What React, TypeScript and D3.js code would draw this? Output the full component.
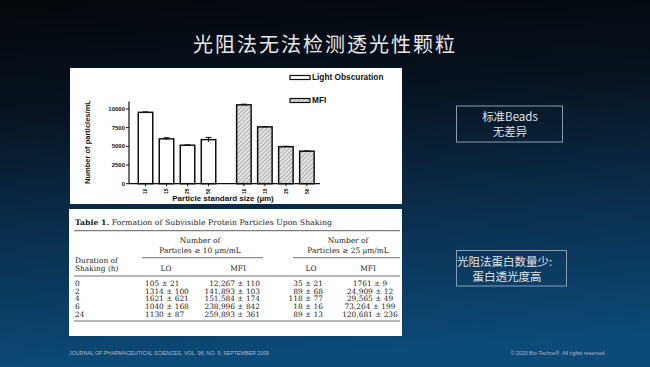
import React from "react";
import * as d3 from "d3";

const sizes = ["10", "15", "25", "50"];
const methods = ["Light Obscuration", "MFI"];
const loCounts = [9550, 6000, 5150, 5900];
const loErr = [60, 150, 50, 300];
const mfiCounts = [10550, 7600, 4950, 4350];
const mfiErr = [90, 50, 60, 40];
const yTicks = [0, 2500, 5000, 7500, 10000];

const durations = ["0", "2", "4", "6", "24"];
const lo10 = ["105 ± 21", "1314 ± 100", "1621 ± 621", "1040 ± 168", "1130 ± 87"];
const mfi10 = ["12,267 ± 110", "141,893 ± 103", "151,584 ± 174", "238,996 ± 842", "259,893 ± 361"];
const lo25 = ["35 ± 21", "89 ± 68", "118 ± 77", "18 ± 16", "89 ± 13"];
const mfi25 = ["1761 ± 9", "24,909 ± 12", "29,565 ± 49", "73,264 ± 199", "120,681 ± 236"];

const CJK = "'Noto Sans CJK SC', 'Noto Sans', sans-serif";
const SANS = "'Liberation Sans', Arial, sans-serif";
const SERIF = "'DejaVu Serif', 'Liberation Serif', serif";

export default function App() {
  const W = 650, H = 367;
  const y = d3.scaleLinear().domain([0, 11000]).range([183.7, 101.5]);
  const outer = d3.scaleBand<string>().domain(methods).range([135, 317.4]).paddingInner(0.146).paddingOuter(0);
  const inner = d3.scaleBand<string>().domain(sizes).range([0, outer.bandwidth()]).paddingInner(0.31).paddingOuter(0.155);
  const series = [
    { m: methods[0], vals: loCounts, errs: loErr },
    { m: methods[1], vals: mfiCounts, errs: mfiErr },
  ];
  const rowY = d3.scalePoint<string>().domain(durations).range([286, 316.5]);

  return (
    <svg width={W} height={H} style={{ position: "absolute", left: 0, top: 0 }}>
      <defs>
        <linearGradient id="bg" x1="0" y1="0" x2="0.1" y2="1">
          <stop offset="0" stopColor="#04070b" />
          <stop offset="0.3" stopColor="#071320" />
          <stop offset="0.62" stopColor="#0a2d4b" />
          <stop offset="1" stopColor="#0c4a77" />
        </linearGradient>
        <pattern id="hatch" width="3" height="3" patternUnits="userSpaceOnUse" patternTransform="rotate(-45)">
          <rect width="3" height="3" fill="#e4e4e4" />
          <line x1="0" y1="0" x2="3" y2="0" stroke="#6a6a6a" strokeWidth="0.9" />
        </pattern>
      </defs>
      <rect width={W} height={H} fill="url(#bg)" />

      <text x={325} y={52} textAnchor="middle" fontFamily={CJK} fontSize={20} letterSpacing={2} fill="#e8e8e8">
        光阻法无法检测透光性颗粒
      </text>

      {/* chart panel */}
      <rect x={70} y={68} width={332} height={136} fill="#ffffff" />
      <g fontFamily={SANS} fontWeight="bold" fill="#111">
        <line x1={129} x2={129} y1={y(11000)} y2={y(0)} stroke="#111" strokeWidth={1.2} />
        <line x1={129} x2={320} y1={y(0)} y2={y(0)} stroke="#111" strokeWidth={1.2} />
        {yTicks.map((t) => (
          <g key={t}>
            <line x1={126} x2={129} y1={y(t)} y2={y(t)} stroke="#111" strokeWidth={1} />
            <text x={125} y={y(t) + 2} textAnchor="end" fontSize={6}>{t}</text>
          </g>
        ))}
        <text transform={`translate(90,142) rotate(-90)`} textAnchor="middle" fontSize={7.5}>Number of particles/mL</text>
        {series.map((s) =>
          s.vals.map((v, i) => {
            const x0 = (outer(s.m) as number) + (inner(sizes[i]) as number);
            const bw = inner.bandwidth();
            const cx = x0 + bw / 2;
            return (
              <g key={s.m + i}>
                <rect x={x0} y={y(v)} width={bw} height={y(0) - y(v)}
                  fill={s.m === "MFI" ? "url(#hatch)" : "#ffffff"} stroke="#111" strokeWidth={1.5} />
                <line x1={cx} x2={cx} y1={y(v + s.errs[i])} y2={y(v - s.errs[i])} stroke="#111" strokeWidth={1} />
                <line x1={cx - 3} x2={cx + 3} y1={y(v + s.errs[i])} y2={y(v + s.errs[i])} stroke="#111" strokeWidth={1} />
                <line x1={cx} x2={cx} y1={y(0)} y2={y(0) + 2.5} stroke="#111" strokeWidth={1} />
                <text transform={`translate(${cx + 1.8},${y(0) + 7.5}) rotate(-90)`} textAnchor="middle" fontSize={5}>{sizes[i]}</text>
              </g>
            );
          })
        )}
        <text x={223} y={200.5} textAnchor="middle" fontSize={8}>Particle standard size (µm)</text>
        <rect x={290} y={75.5} width={20} height={4} fill="#fff" stroke="#111" strokeWidth={1.2} />
        <text x={312} y={80} fontSize={8.3}>{methods[0]}</text>
        <rect x={290} y={98.5} width={20} height={4} fill="url(#hatch)" stroke="#111" strokeWidth={1.2} />
        <text x={312} y={103} fontSize={8.3}>{methods[1]}</text>
      </g>

      {/* table panel */}
      <rect x={69} y={209} width={333} height={127} fill="#ffffff" />
      <g fontFamily={SERIF} fill="#222" fontSize={7.4}>
        <text x={75} y={225} textLength={257} lengthAdjust="spacingAndGlyphs">
          <tspan fontWeight="bold">Table 1.</tspan>
          <tspan>{"  Formation of Subvisible Protein Particles Upon Shaking"}</tspan>
        </text>
        <line x1={74} x2={400} y1={230.7} y2={230.7} stroke="#333" strokeWidth={0.8} />
        <text x={200} y={243} textAnchor="middle">Number of</text>
        <text x={200} y={252.5} textAnchor="middle">Particles ≥ 10 µm/mL</text>
        <line x1={142} x2={263} y1={257.7} y2={257.7} stroke="#333" strokeWidth={0.7} />
        <text x={348} y={243} textAnchor="middle">Number of</text>
        <text x={348} y={252.5} textAnchor="middle">Particles ≥ 25 µm/mL</text>
        <line x1={293} x2={400} y1={257.7} y2={257.7} stroke="#333" strokeWidth={0.7} />
        <text x={75} y={262.5}>Duration of</text>
        <text x={75} y={271}>Shaking (h)</text>
        <text x={166} y={271} textAnchor="middle">LO</text>
        <text x={238} y={271} textAnchor="middle">MFI</text>
        <text x={311} y={271} textAnchor="middle">LO</text>
        <text x={368} y={271} textAnchor="middle">MFI</text>
        <line x1={74} x2={400} y1={276} y2={276} stroke="#333" strokeWidth={0.7} />
        {durations.map((d, i) => {
          const yy = rowY(d) as number;
          return (
            <g key={d}>
              <text x={75} y={yy}>{d}</text>
              <text x={145} y={yy}>{lo10[i]}</text>
              <text x={260} y={yy} textAnchor="end">{mfi10[i]}</text>
              <text x={323} y={yy} textAnchor="end">{lo25[i]}</text>
              <text x={370} y={yy} textAnchor="middle">{mfi25[i]}</text>
            </g>
          );
        })}
        <line x1={74} x2={400} y1={321} y2={321} stroke="#333" strokeWidth={0.7} />
      </g>

      {/* side notes */}
      <rect x={456.5} y={106} width={106} height={36} fill="none" stroke="#8a9db0" strokeWidth={1} />
      <text x={510} y={121} textAnchor="middle" fontFamily={CJK} fontSize={11.5} fill="#e0e4e8">标准Beads</text>
      <text x={510} y={136} textAnchor="middle" fontFamily={CJK} fontSize={11.5} fill="#e0e4e8">无差异</text>
      <rect x={456.5} y={250.5} width={110} height={35.5} fill="none" stroke="#8a9db0" strokeWidth={1} />
      <text x={457} y={266} fontFamily={CJK} fontSize={11.5} fill="#e0e4e8">光阻法蛋白数量少:</text>
      <text x={507} y={280.5} textAnchor="middle" fontFamily={CJK} fontSize={11.5} fill="#e0e4e8">蛋白透光度高</text>

      <text x={69} y={355} fontFamily={SANS} fontSize={5.3} fill="#a9bccd">JOURNAL OF PHARMACEUTICAL SCIENCES, VOL. 98, NO. 9, SEPTEMBER 2009</text>
      <text x={606} y={355} textAnchor="end" fontFamily={SANS} fontSize={5.3} fill="#a9bccd">© 2020 Bio-Techne®. All rights reserved.</text>
    </svg>
  );
}
